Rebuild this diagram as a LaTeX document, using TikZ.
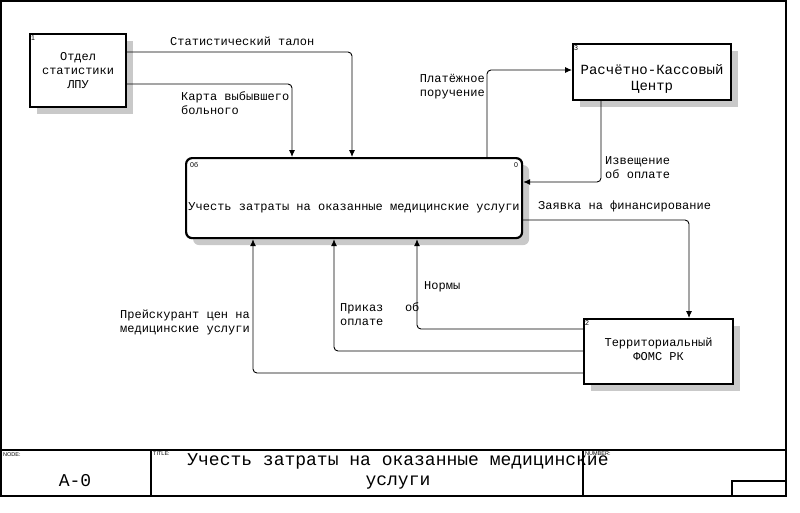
\documentclass[tikz,border=0pt]{standalone}
\usepackage{fontspec}
\setmainfont{Liberation Mono}
\setsansfont{Liberation Sans}
\usetikzlibrary{arrows.meta,shadows}

\begin{document}
\begin{tikzpicture}[x=1pt, y=-1pt,
  box/.style={draw, line width=2.2pt, fill=white, anchor=north west, align=center, inner sep=2pt, font=\fontsize{12}{14}\selectfont, drop shadow={shadow xshift=7pt, shadow yshift=-7pt, fill=gray!42, opacity=1}},
  num/.style={font=\sffamily\fontsize{7}{8}\selectfont, inner sep=2pt},
  lbl/.style={inner sep=0pt, anchor=north west, align=left, font=\fontsize{12}{14}\selectfont},
  flow/.style={-{Latex[length=7pt,width=6pt]}, line width=0.9pt, rounded corners=4pt},
  frame/.style={line width=1.2pt},
  tag/.style={font=\sffamily\fontsize{5.5}{6}\selectfont, inner sep=0pt, anchor=north west}
]
\useasboundingbox (0,0) rectangle (800,512);

\node[box, minimum width=96pt, minimum height=73pt, label={[num, anchor=north west]north west:1}] (otdel) at (29,33) {Отдел\\статистики\\ЛПУ};
\node[box, minimum width=158pt, minimum height=56pt, text height=36pt, text depth=0pt, font=\fontsize{14}{16}\selectfont, label={[num, anchor=north west]north west:3}] (rkc) at (572,43) {Расчётно-Кассовый\\Центр};
\node[box, minimum width=149pt, minimum height=65pt, text height=17pt, text depth=0pt, label={[num, anchor=north west]north west:2}] (foms) at (583,318) {Территориальный\\ФОМС РК};
\node[box, rounded corners=6pt, minimum width=336pt, minimum height=80pt, text height=24pt, text depth=0pt,
  label={[num, anchor=north west, xshift=3pt, yshift=-3pt]north west:0б},
  label={[num, anchor=north east, xshift=-3pt, yshift=-3pt]north east:0}] (uchet) at (185,157) {Учесть затраты на оказанные медицинские услуги};

\draw[flow] (otdel.east |- 0,52) -| (352,0 |- uchet.north);
\draw[flow] (otdel.east |- 0,84) -| (292,0 |- uchet.north);
\draw[flow] (487,0 |- uchet.north) |- (rkc.west |- 0,70);
\draw[flow] (601,0 |- rkc.south) |- (uchet.east |- 0,182);
\draw[flow] (uchet.east |- 0,220) -| (689,0 |- foms.north);
\draw[flow] (foms.west |- 0,329) -| (417,0 |- uchet.south);
\draw[flow] (foms.west |- 0,351) -| (334,0 |- uchet.south);
\draw[flow] (foms.west |- 0,373) -| (253,0 |- uchet.south);

\node[lbl] (l-talon) at (170,37) {Статистический талон};
\node[lbl] (l-karta) at (181,91) {Карта выбывшего\\больного};
\node[lbl, anchor=north east, align=right] (l-poruch) at (485,74) {Платёжное\\поручение};
\node[lbl] (l-izvesh) at (605,156) {Извещение\\об оплате};
\node[lbl] (l-zayavka) at (538,201) {Заявка на финансирование};
\node[lbl] (l-normy) at (424,281) {Нормы};
\node[lbl] (l-prikaz) at (340,302) {Приказ\ \ \ об\\оплате};
\node[lbl, anchor=north east, align=right] (l-preysk) at (250,310) {Прейскурант цен на\\медицинские услуги};

\draw[frame] (1,1) rectangle (786,496);
\draw[frame] (1,450) -- (786,450);
\draw[frame] (151,450) -- (151,496);
\draw[frame] (583,450) -- (583,496);
\draw[frame] (732,481) rectangle (786,496);
\node[tag] (t-node) at (3,452) {NODE:};
\node[tag] (t-title) at (153,452) {TITLE:};
\node[tag] (t-number) at (585,452) {NUMBER:};
\node[font=\fontsize{18}{20}\selectfont] (t-a0) at (75,481) {A-0};
\node[align=center, font=\fontsize{18}{20}\selectfont, inner sep=0pt] (t-name) at (398,471) {Учесть затраты на оказанные медицинские\\услуги};
\end{tikzpicture}
\end{document}
